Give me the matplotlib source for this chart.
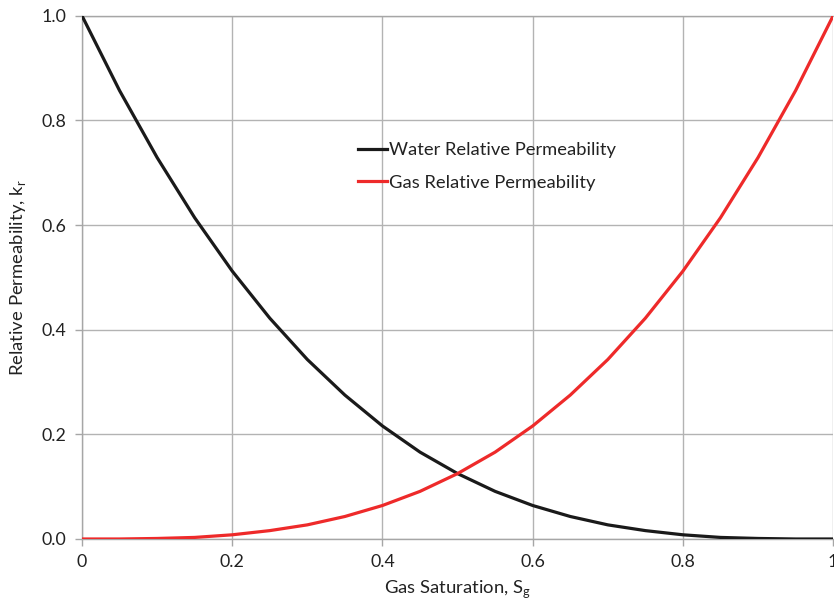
import matplotlib.pyplot as plt
from matplotlib import rcParams

rcParams['font.family'] = ['Lato', 'DejaVu Sans']

# gas saturation and relative permeabilities
sg = [0.0, 0.05, 0.1, 0.15, 0.2, 0.25, 0.3, 0.35, 0.4, 0.45, 0.5,
      0.55, 0.6, 0.65, 0.7, 0.75, 0.8, 0.85, 0.9, 0.95, 1.0]
krw = [1.0, 0.857, 0.729, 0.614, 0.512, 0.422, 0.343, 0.275, 0.216, 0.166, 0.125,
       0.091, 0.064, 0.043, 0.027, 0.016, 0.008, 0.003, 0.001, 0.0, 0.0]
krg = [0.0, 0.0, 0.001, 0.003, 0.008, 0.016, 0.027, 0.043, 0.064, 0.091, 0.125,
       0.166, 0.216, 0.275, 0.343, 0.422, 0.512, 0.614, 0.729, 0.857, 1.0]
xticks = [0, 0.2, 0.4, 0.6, 0.8, 1]
xticklabels = ['0', '0.2', '0.4', '0.6', '0.8', '1']
yticks = [0.0, 0.2, 0.4, 0.6, 0.8, 1.0]

fig = plt.figure(figsize=(8.34, 6.12), dpi=100)
ax = fig.add_axes([0.0983, 0.1193, 0.9007, 0.855])

ax.plot(sg, krw, color='#1a1a1a', linewidth=2.3, label='Water Relative Permeability', zorder=3)
ax.plot(sg, krg, color='#ee2a2a', linewidth=2.3, label='Gas Relative Permeability', zorder=3)

ax.set_xlim(0, 1)
ax.set_ylim(0, 1)
ax.set_xticks(xticks)
ax.set_xticklabels(xticklabels)
ax.set_yticks(yticks)
ax.set_yticklabels(['%.1f' % v for v in yticks])
ax.grid(color='#b3b3b3', linewidth=1)
ax.set_axisbelow(True)
for s in ax.spines.values():
    s.set_color('#a6a6a6')
    s.set_linewidth(1)
ax.spines['right'].set_visible(False)
ax.tick_params(colors='#a6a6a6', labelcolor='#222222', labelsize=12.8, length=5, width=1, pad=6)

ax.set_xlabel('Gas Saturation, S$_\\mathregular{g}$', fontsize=13.3, color='#222222', labelpad=6)
ax.set_ylabel('Relative Permeability, k$_\\mathregular{r}$', fontsize=13.3, color='#222222', labelpad=10)

ax.legend(loc='upper left', bbox_to_anchor=(0.345, 0.79), frameon=False, fontsize=13.2,
          handlelength=1.6, handletextpad=0.1, labelspacing=0.9, labelcolor='#222222')

plt.savefig('out.png', dpi=100)
